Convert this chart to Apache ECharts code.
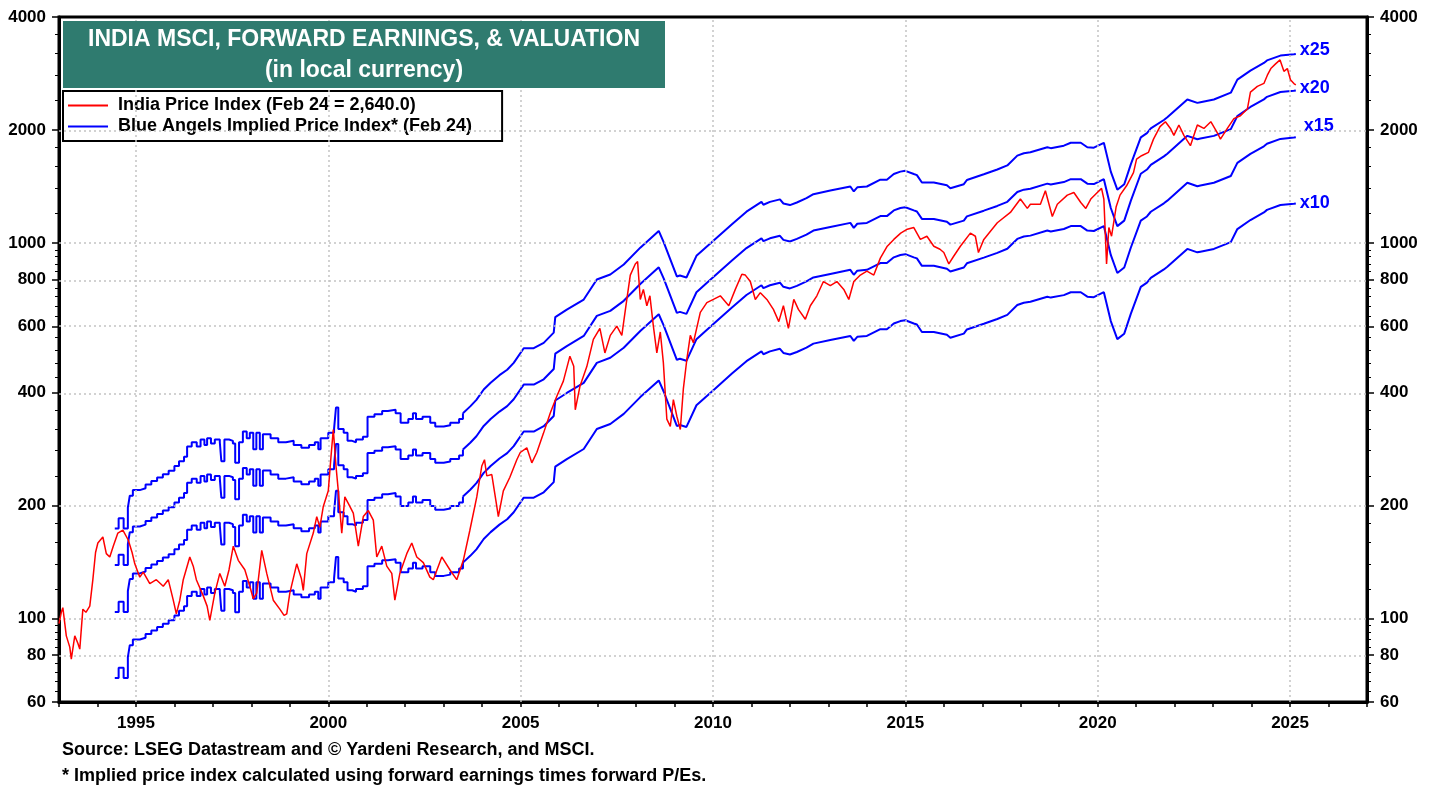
<!DOCTYPE html>
<html>
<head>
<meta charset="utf-8">
<title>India MSCI, Forward Earnings, & Valuation</title>
<script src="https://cdn.jsdelivr.net/npm/echarts@6/dist/echarts.min.js"></script>
<style>
  html, body { margin: 0; padding: 0; background: #ffffff; }
  #chart { width: 1438px; height: 787px; }
</style>
</head>
<body>
<div id="chart"></div>
<script>
  // India MSCI price index, local currency: [decimal year, index]
  const priceIndex = [
    [1993.00, 97], [1993.06, 104], [1993.10, 107], [1993.19, 90], [1993.28, 84], [1993.32, 78],
    [1993.41, 90], [1993.49, 86], [1993.54, 83], [1993.62, 106], [1993.70, 104], [1993.80, 108],
    [1993.88, 127], [1993.95, 150], [1994.01, 159], [1994.14, 165], [1994.23, 149], [1994.32, 146],
    [1994.41, 156], [1994.53, 169], [1994.66, 172], [1994.80, 162], [1994.90, 150], [1994.97, 140],
    [1995.10, 129], [1995.19, 133], [1995.36, 124], [1995.53, 127], [1995.71, 122], [1995.84, 127],
    [1995.97, 112], [1996.05, 103], [1996.14, 112], [1996.23, 127], [1996.40, 146], [1996.49, 138],
    [1996.57, 127], [1996.75, 115], [1996.85, 108], [1996.92, 99], [1997.05, 117], [1997.18, 132],
    [1997.31, 122], [1997.42, 135], [1997.53, 156], [1997.66, 143], [1997.83, 135], [1997.96, 122],
    [1998.05, 113], [1998.14, 117], [1998.27, 152], [1998.40, 132], [1998.57, 112], [1998.74, 106],
    [1998.85, 102], [1998.92, 103], [1999.00, 117], [1999.18, 140], [1999.30, 128], [1999.35, 119],
    [1999.44, 149], [1999.61, 169], [1999.70, 187], [1999.78, 175], [1999.87, 199], [2000.00, 219],
    [2000.07, 270], [2000.13, 319], [2000.20, 255], [2000.26, 219], [2000.35, 169], [2000.43, 211],
    [2000.56, 199], [2000.65, 191], [2000.78, 156], [2000.91, 187], [2001.04, 194], [2001.17, 183],
    [2001.26, 146], [2001.39, 156], [2001.52, 138], [2001.65, 132], [2001.73, 112], [2001.86, 132],
    [2002.04, 149], [2002.17, 159], [2002.30, 146], [2002.47, 141], [2002.64, 129], [2002.73, 127],
    [2002.95, 146], [2003.16, 135], [2003.34, 127], [2003.51, 143], [2003.68, 172], [2003.86, 211],
    [2003.99, 255], [2004.06, 265], [2004.12, 240], [2004.25, 242], [2004.38, 199], [2004.42, 187],
    [2004.55, 219], [2004.72, 238], [2004.90, 265], [2004.99, 277], [2005.16, 285], [2005.29, 260],
    [2005.42, 277], [2005.59, 311], [2005.77, 353], [2005.94, 391], [2006.11, 429], [2006.28, 500],
    [2006.38, 470], [2006.42, 360], [2006.54, 415], [2006.72, 469], [2006.89, 554], [2007.06, 593],
    [2007.19, 510], [2007.33, 568], [2007.50, 601], [2007.63, 568], [2007.76, 708], [2007.85, 822],
    [2007.98, 880], [2008.04, 893], [2008.11, 708], [2008.19, 753], [2008.28, 681], [2008.36, 724],
    [2008.45, 601], [2008.54, 510], [2008.63, 580], [2008.71, 480], [2008.80, 340], [2008.89, 325],
    [2008.97, 383], [2009.06, 346], [2009.15, 319], [2009.23, 410], [2009.32, 490], [2009.41, 568],
    [2009.49, 543], [2009.67, 654], [2009.84, 694], [2010.01, 708], [2010.19, 724], [2010.41, 681],
    [2010.58, 753], [2010.75, 826], [2010.84, 822], [2010.97, 790], [2011.10, 708], [2011.23, 738],
    [2011.40, 708], [2011.57, 666], [2011.71, 618], [2011.83, 681], [2011.96, 593], [2012.10, 708],
    [2012.22, 666], [2012.40, 627], [2012.53, 681], [2012.70, 724], [2012.87, 790], [2013.05, 771],
    [2013.22, 790], [2013.40, 753], [2013.53, 708], [2013.66, 790], [2013.83, 822], [2014.00, 842],
    [2014.18, 822], [2014.35, 912], [2014.53, 981], [2014.70, 1023], [2014.88, 1063], [2015.05, 1089],
    [2015.22, 1100], [2015.39, 1023], [2015.56, 1043], [2015.74, 981], [2015.90, 963], [2016.00, 944],
    [2016.13, 880], [2016.26, 924], [2016.43, 981], [2016.69, 1063], [2016.82, 1043], [2016.90, 944],
    [2017.04, 1023], [2017.39, 1133], [2017.73, 1207], [2017.99, 1310], [2018.17, 1237], [2018.25, 1269],
    [2018.51, 1269], [2018.64, 1378], [2018.82, 1177], [2018.95, 1269], [2019.21, 1342], [2019.38, 1364],
    [2019.56, 1283], [2019.69, 1237], [2019.82, 1310], [2019.99, 1364], [2020.10, 1399], [2020.16, 1310],
    [2020.23, 880], [2020.29, 1100], [2020.36, 1043], [2020.48, 1250], [2020.58, 1342], [2020.75, 1421],
    [2020.93, 1541], [2021.01, 1674], [2021.14, 1709], [2021.32, 1745], [2021.45, 1892], [2021.62, 2042],
    [2021.76, 2105], [2021.89, 2020], [2021.98, 1936], [2022.11, 2063], [2022.24, 1936], [2022.41, 1817],
    [2022.59, 2063], [2022.76, 2020], [2022.94, 2105], [2023.11, 1967], [2023.19, 1892], [2023.37, 2020],
    [2023.54, 2146], [2023.71, 2184], [2023.89, 2275], [2023.97, 2523], [2024.15, 2614], [2024.32, 2662],
    [2024.41, 2800], [2024.50, 2916], [2024.63, 3006], [2024.74, 3075], [2024.84, 2867], [2024.93, 2916],
    [2025.01, 2722], [2025.10, 2660], [2025.15, 2640]
  ];

  // forward earnings, monthly steps up to mid-2003: [year, earnings]
  const fwdEarningsMonthly = [
    [1994.45, 6.95], [1994.55, 7.4], [1994.68, 6.95], [1994.79, 7.9], [1994.84, 8.5], [1994.92, 8.8],
    [1995.10, 8.9], [1995.25, 9.1], [1995.40, 9.3], [1995.55, 9.5], [1995.70, 9.7], [1995.85, 9.9],
    [1996.00, 10.2], [1996.12, 10.5], [1996.25, 10.8], [1996.33, 11.5], [1996.45, 11.8], [1996.58, 11.5],
    [1996.68, 12.0], [1996.78, 11.6], [1996.85, 12.1], [1996.95, 11.7], [1997.05, 12.0], [1997.18, 11.8],
    [1997.22, 10.5], [1997.30, 12.0], [1997.42, 11.9], [1997.52, 11.7], [1997.58, 10.4], [1997.68, 11.8],
    [1997.78, 12.6], [1997.88, 12.1], [1997.96, 12.5], [1998.05, 11.3], [1998.13, 12.5], [1998.22, 11.3],
    [1998.30, 12.4], [1998.50, 12.1], [1998.70, 11.8], [1998.90, 11.9], [1999.10, 11.6], [1999.30, 11.4],
    [1999.50, 11.6], [1999.65, 11.8], [1999.74, 11.3], [1999.80, 12.1], [2000.00, 12.5], [2000.15, 12.8],
    [2000.20, 14.6], [2000.26, 12.8], [2000.40, 12.5], [2000.50, 11.9], [2000.62, 11.8], [2000.72, 12.0],
    [2000.90, 12.2], [2001.02, 13.8], [2001.20, 14.0], [2001.40, 14.3], [2001.55, 14.4], [2001.75, 14.1],
    [2001.88, 13.3], [2002.08, 13.6], [2002.20, 14.1], [2002.28, 13.6], [2002.45, 13.8], [2002.65, 13.3],
    [2002.78, 13.0], [2003.00, 13.1], [2003.17, 13.3], [2003.40, 13.6], [2003.50, 14.1]
  ];
  // forward earnings, weekly from mid-2003
  const fwdEarningsWeekly = [
    [2003.50, 14.1], [2003.69, 14.7], [2003.85, 15.3], [2004.04, 16.3], [2004.22, 17.0], [2004.45, 17.8],
    [2004.65, 18.4], [2004.82, 19.2], [2005.08, 21.0], [2005.34, 21.0], [2005.60, 21.7], [2005.86, 23.1],
    [2005.90, 25.4], [2006.20, 26.6], [2006.64, 28.3], [2006.98, 32.0], [2007.33, 33.0], [2007.68, 35.1],
    [2008.11, 38.9], [2008.59, 43.1], [2008.72, 40.2], [2009.06, 32.6], [2009.14, 32.8], [2009.31, 32.4],
    [2009.57, 37.0], [2010.01, 40.6], [2010.50, 45.0], [2010.87, 48.5], [2011.26, 51.5], [2011.31, 50.6],
    [2011.48, 51.5], [2011.74, 52.3], [2011.83, 51.0], [2012.00, 50.5], [2012.18, 51.3], [2012.43, 52.7],
    [2012.61, 54.0], [2013.05, 55.2], [2013.57, 56.6], [2013.66, 54.9], [2013.75, 56.3], [2014.00, 56.6],
    [2014.35, 59.0], [2014.52, 59.0], [2014.70, 61.1], [2014.87, 62.0], [2015.00, 62.3], [2015.22, 61.1],
    [2015.30, 60.7], [2015.43, 58.0], [2015.74, 58.0], [2016.08, 57.0], [2016.17, 56.0], [2016.52, 57.4],
    [2016.60, 58.9], [2017.04, 61.0], [2017.39, 62.8], [2017.65, 64.4], [2017.91, 68.4], [2018.08, 69.4],
    [2018.25, 69.8], [2018.69, 72.0], [2018.78, 71.6], [2019.12, 72.7], [2019.30, 74.0], [2019.56, 74.0],
    [2019.73, 72.0], [2019.90, 71.8], [2020.16, 74.0], [2020.34, 62.0], [2020.51, 55.5], [2020.69, 57.4],
    [2020.86, 64.8], [2021.12, 76.5], [2021.28, 78.5], [2021.38, 80.8], [2021.72, 85.1], [2021.81, 86.5],
    [2022.33, 96.5], [2022.59, 94.5], [2022.67, 94.9], [2023.02, 96.5], [2023.46, 100.6], [2023.63, 109.0],
    [2023.97, 115.2], [2024.32, 120.7], [2024.40, 122.6], [2024.75, 126.3], [2025.10, 127.3], [2025.15, 127.5]
  ];

  const peMultiples = [25, 20, 15, 10];
  const yTicks = [60, 80, 100, 200, 400, 600, 800, 1000, 2000, 4000];
  const yGrid = [80, 100, 200, 400, 600, 800, 1000, 2000];
  const yearLabels = [1995, 2000, 2005, 2010, 2015, 2020, 2025];

  const PRICE_NAME = 'India Price Index (Feb 24 = 2,640.0)';
  const BAND_NAME = 'Blue Angels Implied Price Index* (Feb 24)';
  const FONT = "'Liberation Sans', Arial, Helvetica, sans-serif";

  const lg = v => Math.log10(v);

  // 4 linear steps between every pair of major ticks
  const yMinor = [];
  for (let i = 0; i < yTicks.length - 1; i++) {
    const step = (yTicks[i + 1] - yTicks[i]) / 5;
    for (let k = 1; k < 5; k++) yMinor.push(yTicks[i] + k * step);
  }

  const labelOffsets = { 25: [-4, -4], 20: [-4, -2], 15: [0, -11], 10: [-4, 0] };

  let myChart = echarts.init(document.getElementById('chart'));

  const series = [];
  /*grid lines*/
  series.push({
    type: 'line',
    data: [],
    z: 1,
    silent: true,
    markLine: {
      silent: true,
      symbol: ['none', 'none'],
      label: { show: false },
      lineStyle: { color: '#c4c4c4', type: [2, 3], width: 1.5 },
      data: yearLabels.map(y => ({ xAxis: y })).concat(yGrid.map(v => ({ yAxis: lg(v) })))
    }
  });
  /*implied price bands*/
  peMultiples.forEach(m => {
    series.push({
      name: BAND_NAME,
      type: 'line',
      step: 'end',
      symbol: 'none',
      z: 3,
      lineStyle: { color: '#0000ff', width: 2 },
      itemStyle: { color: '#0000ff' },
      data: fwdEarningsMonthly.map(d => [d[0], lg(d[1] * m)])
    });
    series.push({
      name: BAND_NAME,
      type: 'line',
      symbol: 'none',
      z: 3,
      lineStyle: { color: '#0000ff', width: 2 },
      itemStyle: { color: '#0000ff' },
      data: fwdEarningsWeekly.map(d => [d[0], lg(d[1] * m)]),
      endLabel: {
        show: true,
        formatter: 'x' + m,
        color: '#0000ff',
        fontSize: 18,
        fontWeight: 'bold',
        fontFamily: FONT,
        offset: labelOffsets[m]
      }
    });
  });
  /*price index*/
  series.push({
    name: PRICE_NAME,
    type: 'line',
    symbol: 'none',
    z: 5,
    lineStyle: { color: '#ff0000', width: 1.5 },
    itemStyle: { color: '#ff0000' },
    data: priceIndex.map(d => [d[0], lg(d[1])])
  });

  const yMin = lg(60), yMax = lg(4000);
  const tickLabel = v => {
    const r = Math.pow(10, v);
    let best = yTicks[0];
    yTicks.forEach(t => { if (Math.abs(t - r) < Math.abs(best - r)) best = t; });
    return String(best);
  };
  const axisText = { color: '#000', fontSize: 17, fontWeight: 'bold', fontFamily: FONT };

  function majorY(pos) {
    return {
      type: 'value',
      position: pos,
      min: yMin,
      max: yMax,
      axisLine: { show: true, lineStyle: { color: '#000', width: 3 } },
      axisTick: { show: true, customValues: yTicks.map(lg), length: 7, lineStyle: { color: '#000', width: 1.5 } },
      axisLabel: Object.assign({ show: true, customValues: yTicks.map(lg), formatter: tickLabel, margin: 13 }, axisText),
      splitLine: { show: false }
    };
  }
  function minorY(pos) {
    return {
      type: 'value',
      position: pos,
      min: yMin,
      max: yMax,
      axisLine: { show: false },
      axisTick: { show: true, customValues: yMinor.map(lg), length: 4, lineStyle: { color: '#000', width: 1 } },
      axisLabel: { show: false },
      splitLine: { show: false }
    };
  }

  let option = {
    animation: false,
    backgroundColor: '#ffffff',
    grid: {
      left: 59, right: 71, top: 17, bottom: 85,
      show: true, borderColor: '#000', borderWidth: 3, backgroundColor: 'transparent'
    },
    legend: {
      data: [PRICE_NAME, BAND_NAME],
      orient: 'vertical',
      left: 63,
      top: 91,
      padding: [4, 30, 4, 5],
      itemGap: 0,
      itemWidth: 40,
      itemHeight: 2,
      icon: 'rect',
      backgroundColor: '#ffffff',
      borderColor: '#000',
      borderWidth: 2,
      selectedMode: false,
      textStyle: { color: '#000', fontSize: 18, fontWeight: 'bold', fontFamily: FONT, lineHeight: 21, padding: [0, 0, 0, 5] }
    },
    xAxis: {
      type: 'value',
      min: 1993,
      max: 2027,
      interval: 1,
      axisLine: { show: true, lineStyle: { color: '#000', width: 3 } },
      axisTick: { show: true, length: 5, lineStyle: { color: '#000', width: 1.5 } },
      axisLabel: Object.assign({ customValues: yearLabels, formatter: v => String(Math.round(v)), margin: 13 }, axisText),
      splitLine: { show: false }
    },
    yAxis: [majorY('left'), majorY('right'), minorY('left'), minorY('right')],
    graphic: [
      {
        type: 'rect',
        shape: { x: 63, y: 21, width: 602, height: 67 },
        style: { fill: '#2f7b6f' },
        z: 100
      },
      {
        type: 'text',
        z: 101,
        style: {
          text: 'INDIA MSCI, FORWARD EARNINGS, & VALUATION',
          x: 364, y: 40, textAlign: 'center', textVerticalAlign: 'middle',
          fill: '#ffffff', font: 'bold 23px ' + FONT
        }
      },
      {
        type: 'text',
        z: 101,
        style: {
          text: '(in local currency)',
          x: 364, y: 71, textAlign: 'center', textVerticalAlign: 'middle',
          fill: '#ffffff', font: 'bold 23px ' + FONT
        }
      },
      {
        type: 'text',
        z: 101,
        style: {
          text: 'Source: LSEG Datastream and \u00a9 Yardeni Research, and MSCI.',
          x: 62, y: 750, textVerticalAlign: 'middle',
          fill: '#000', font: 'bold 18px ' + FONT
        }
      },
      {
        type: 'text',
        z: 101,
        style: {
          text: '* Implied price index calculated using forward earnings times forward P/Es.',
          x: 62, y: 776, textVerticalAlign: 'middle',
          fill: '#000', font: 'bold 18px ' + FONT
        }
      }
    ],
    series: series
  };

  myChart.setOption(option);
  window.addEventListener('resize', function() { myChart.resize() });
</script>
</body>
</html>
